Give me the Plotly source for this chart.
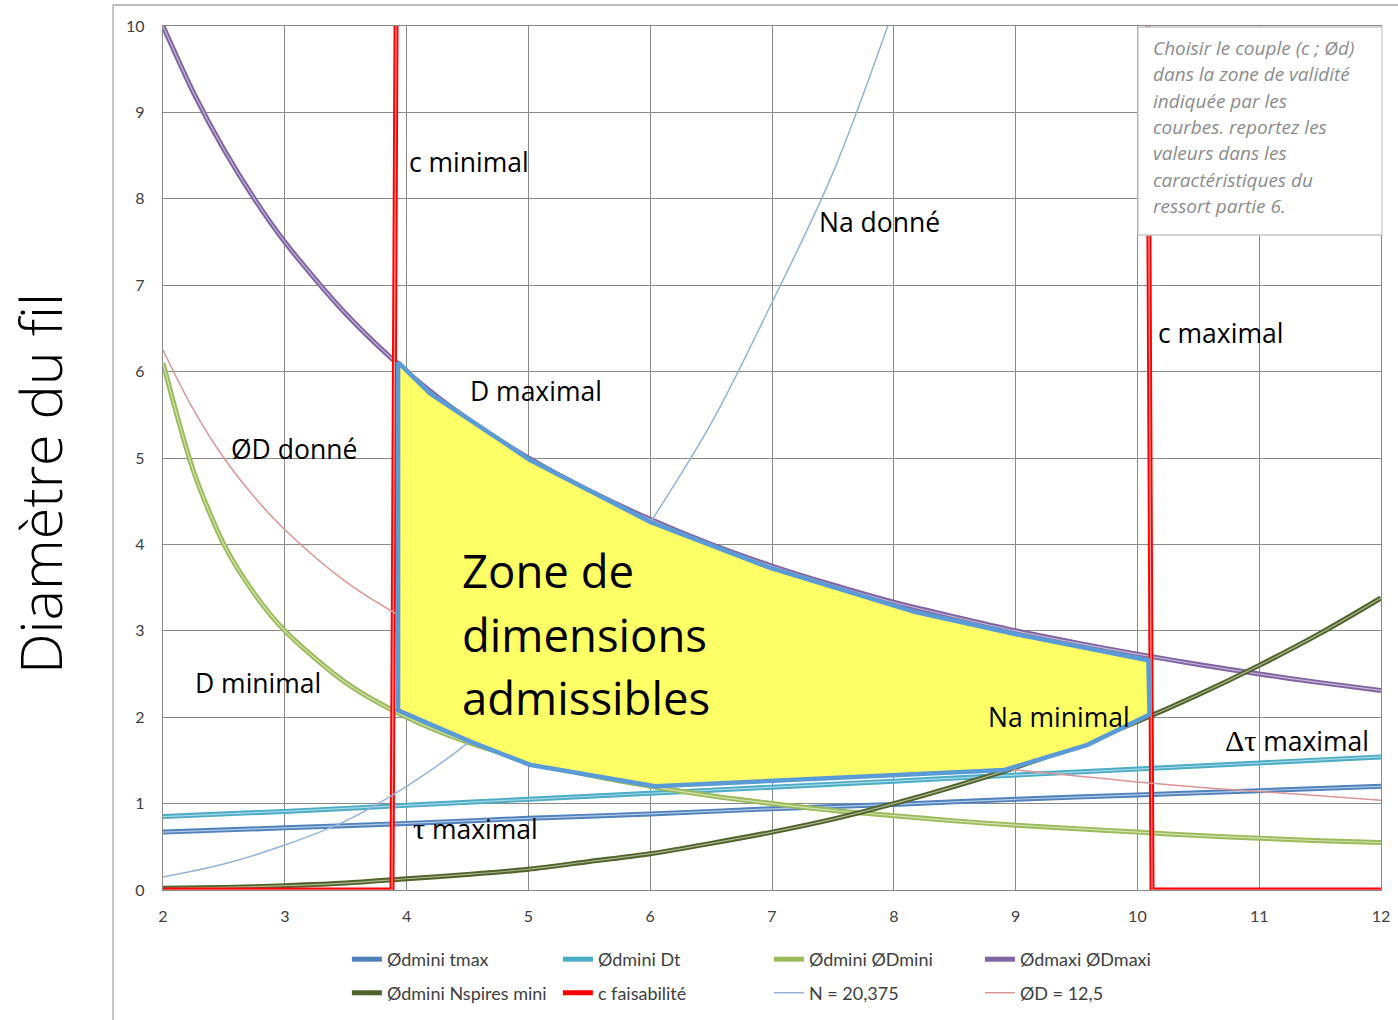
import plotly.graph_objects as go

# ---------------- data ----------------
c_int = [2, 3, 4, 5, 6, 7, 8, 9, 10, 11, 12]
c_half = [2, 2.5, 3, 3.5, 4, 4.5, 5, 5.5, 6, 6.5, 7, 7.5, 8, 8.5, 9, 9.5, 10, 10.5, 11, 11.5, 12]
c_fine = [2, 2.25, 2.5, 2.75, 3, 3.5, 4, 4.5, 5, 5.5, 6, 6.5, 7, 7.5, 8, 8.5, 9, 9.5, 10, 10.5, 11, 11.5, 12]

d_tmax = [0.67, 0.72, 0.77, 0.83, 0.88, 0.94, 0.99, 1.05, 1.10, 1.15, 1.20]
d_dt = [0.85, 0.91, 0.98, 1.05, 1.12, 1.19, 1.26, 1.33, 1.40, 1.47, 1.54]
d_dmini = [6.1, 4.85, 4.0, 3.43, 3.0, 2.4, 2.0, 1.71, 1.5, 1.33, 1.2, 1.09, 1.0, 0.92, 0.86, 0.8, 0.75, 0.71, 0.67, 0.63, 0.6, 0.57, 0.55]
d_dmaxi = [10.0, 9.23, 8.57, 8.0, 7.5, 6.67, 6.0, 5.45, 5.0, 4.62, 4.29, 4.0, 3.75, 3.53, 3.33, 3.16, 3.0, 2.86, 2.73, 2.61, 2.5, 2.4, 2.31]
d_nspires = [0.02, 0.03, 0.05, 0.08, 0.13, 0.18, 0.24, 0.33, 0.42, 0.54, 0.67, 0.82, 1.0, 1.2, 1.42, 1.67, 1.95, 2.26, 2.6, 2.97, 3.38]
d_D125 = [6.25, 5.56, 5.0, 4.55, 4.17, 3.57, 3.13, 2.78, 2.5, 2.27, 2.08, 1.92, 1.79, 1.67, 1.56, 1.47, 1.39, 1.32, 1.25, 1.19, 1.14, 1.09, 1.04]

c_N = [2, 2.5, 3, 3.5, 4, 4.5, 5, 5.5, 6, 6.5, 7, 7.5, 8]
d_N = [0.15, 0.3, 0.52, 0.8, 1.2, 1.7, 2.35, 3.2, 4.25, 5.4, 6.8, 8.3, 10.2]

c_red = [2, 3.88, 3.92, 10.08, 10.12, 12]
d_red = [0, 0, 12, 12, 0, 0]

zone_c = [3.93, 4.19, 5.01, 6.0, 6.98, 8.17, 9.04, 10.09, 10.1, 9.59, 8.91, 6.04, 5.01, 4.52, 3.93, 3.93]
zone_d = [6.11, 5.75, 4.98, 4.26, 3.73, 3.22, 2.95, 2.66, 2.03, 1.68, 1.39, 1.2, 1.45, 1.72, 2.08, 6.11]

names_row1 = ["Ødmini tmax", "Ødmini Dt", "Ødmini ØDmini", "Ødmaxi ØDmaxi"]
names_row2 = ["Ødmini Nspires mini", "c faisabilité", "N = 20,375", "ØD = 12,5"]

note_lines = ["Choisir le couple (c ; Ød)", "dans la zone de validité", "indiquée par les",
              "courbes. reportez les", "valeurs dans les", "caractéristiques du", "ressort partie 6."]
zone_lines = ["Zone de", "dimensions", "admissibles"]

x_ticks = [2, 3, 4, 5, 6, 7, 8, 9, 10, 11, 12]
y_ticks = [0, 1, 2, 3, 4, 5, 6, 7, 8, 9, 10]

# ---------------- figure ----------------
fig = go.Figure()


def thick(x, y, name, color, stripe, legend, shape="spline"):
    fig.add_trace(go.Scatter(x=x, y=y, name=name, mode="lines", legend=legend,
                             line=dict(color=color, width=5, shape=shape, smoothing=0.8),
                             hoverinfo="skip"))
    fig.add_trace(go.Scatter(x=x, y=y, mode="lines", showlegend=False,
                             line=dict(color=stripe, width=1.2, shape=shape, smoothing=0.8),
                             hoverinfo="skip"))


thick(c_int, d_tmax, names_row1[0], "#4F81BD", "#B4C8E2", "legend")
thick(c_int, d_dt, names_row1[1], "#4BACC6", "#A9D7E4", "legend")
thick(c_fine, d_dmini, names_row1[2], "#9BBB59", "#D3E2B6", "legend")
thick(c_fine, d_dmaxi, names_row1[3], "#8064A2", "#C4B6D6", "legend")
thick(c_half, d_nspires, names_row2[0], "#4F6228", "#A9B494", "legend2")
thick(c_red, d_red, names_row2[1], "#FF0000", "#FF9A9A", "legend2", shape="linear")

fig.add_trace(go.Scatter(x=c_N, y=d_N, name=names_row2[2], mode="lines", legend="legend2",
                         line=dict(color="#95B3D7", width=1.5, shape="spline"), hoverinfo="skip"))
fig.add_trace(go.Scatter(x=c_fine, y=d_D125, name=names_row2[3], mode="lines", legend="legend2",
                         line=dict(color="#DA9694", width=1.5, shape="spline"), hoverinfo="skip"))

# admissible zone polygon
fig.add_trace(go.Scatter(x=zone_c, y=zone_d, mode="lines", fill="toself", fillcolor="#FFFF66",
                         line=dict(color="#5B9BD5", width=4.5), showlegend=False, hoverinfo="skip"))

GRID = "#8A8A8A"
TICKFONT = dict(family="Lato", size=16, color="#404040")
LEGFONT = dict(family="Lato", size=18, color="#404040")

fig.update_layout(
    width=1398, height=1020,
    margin=dict(l=163, r=17, t=26, b=130, autoexpand=False),
    paper_bgcolor="white", plot_bgcolor="white",
    xaxis=dict(range=[2, 12], tickvals=x_ticks, showgrid=True, gridcolor=GRID, gridwidth=1.3,
               showline=True, mirror=True, linecolor=GRID, linewidth=1.3, zeroline=False,
               tickfont=TICKFONT, ticklabelstandoff=12, fixedrange=True),
    yaxis=dict(range=[0, 10], tickvals=y_ticks, showgrid=True, gridcolor=GRID, gridwidth=1.3,
               showline=True, mirror=True, linecolor=GRID, linewidth=1.3, zeroline=False,
               tickfont=TICKFONT, ticklabelstandoff=14, fixedrange=True),
    legend=dict(orientation="h", x=0.151, y=-0.059, xanchor="left", yanchor="top",
                entrywidth=166, entrywidthmode="pixels", bgcolor="rgba(0,0,0,0)", font=LEGFONT),
    legend2=dict(orientation="h", x=0.151, y=-0.098, xanchor="left", yanchor="top",
                 entrywidth=166, entrywidthmode="pixels", bgcolor="rgba(0,0,0,0)", font=LEGFONT),
    showlegend=True,
)

# outer chart frame (left & top edges visible)
fig.add_shape(type="rect", xref="paper", yref="paper", x0=-0.041, x1=1.02, y0=-0.2, y1=1.0243,
              line=dict(color="#A6A6A6", width=1.3), fillcolor="rgba(0,0,0,0)", layer="below")

# note box
fig.add_shape(type="rect", xref="paper", yref="paper", x0=(1138 - 163) / 1218, x1=(1382 - 163) / 1218,
              y0=(890 - 235) / 864, y1=(890 - 27) / 864,
              line=dict(color="#C8C8C8", width=1.3), fillcolor="white", layer="above")
for i, t in enumerate(note_lines):
    fig.add_annotation(xref="paper", yref="paper", x=(1151 - 163) / 1218, y=(890 - 48 - 26.3 * i) / 864,
                       xanchor="left", yanchor="middle", showarrow=False, text=t,
                       font=dict(family="Open Sans", size=19, color="#8C8C8C", style="italic"))

# zone text
for i, t in enumerate(zone_lines):
    fig.add_annotation(x=4.44, y=(890 - 570 - 63.5 * i) / 86.4, xanchor="left", yanchor="middle",
                       showarrow=False, text=t,
                       font=dict(family="Open Sans", size=45.5, color="black"))

# curve labels
labels = [
    (4.0, 8.43, "c minimal"),
    (7.37, 7.73, "Na donné"),
    (10.15, 6.45, "c maximal"),
    (4.50, 5.78, "D maximal"),
    (2.54, 5.10, "ØD donné"),
    (2.25, 2.40, "D minimal"),
    (8.76, 2.00, "Na minimal"),
    (10.70, 1.72, "<span style=\"font-family:'Liberation Serif';font-size:30px\">Δτ</span> maximal"),
    (4.04, 0.71, "<span style=\"font-family:'Liberation Serif';font-size:30px\">τ</span> maximal"),
]
for x, y, t in labels:
    fig.add_annotation(x=x, y=y, xanchor="left", yanchor="middle", showarrow=False, text=t,
                       font=dict(family="Open Sans", size=26.5, color="black"))

# y axis title
fig.add_annotation(xref="paper", yref="paper", x=(40 - 163) / 1218, y=(890 - 484) / 864,
                   xanchor="center", yanchor="middle", textangle=-90, showarrow=False,
                   text="Diamètre du fil", font=dict(family="Open Sans", size=57.5, color="black", weight=300))

fig.write_html(
    "out.html",
    config={"displayModeBar": False},
    post_script="document.documentElement.style.overflow='hidden';document.body.style.margin='0';document.body.style.overflow='hidden';",
)
